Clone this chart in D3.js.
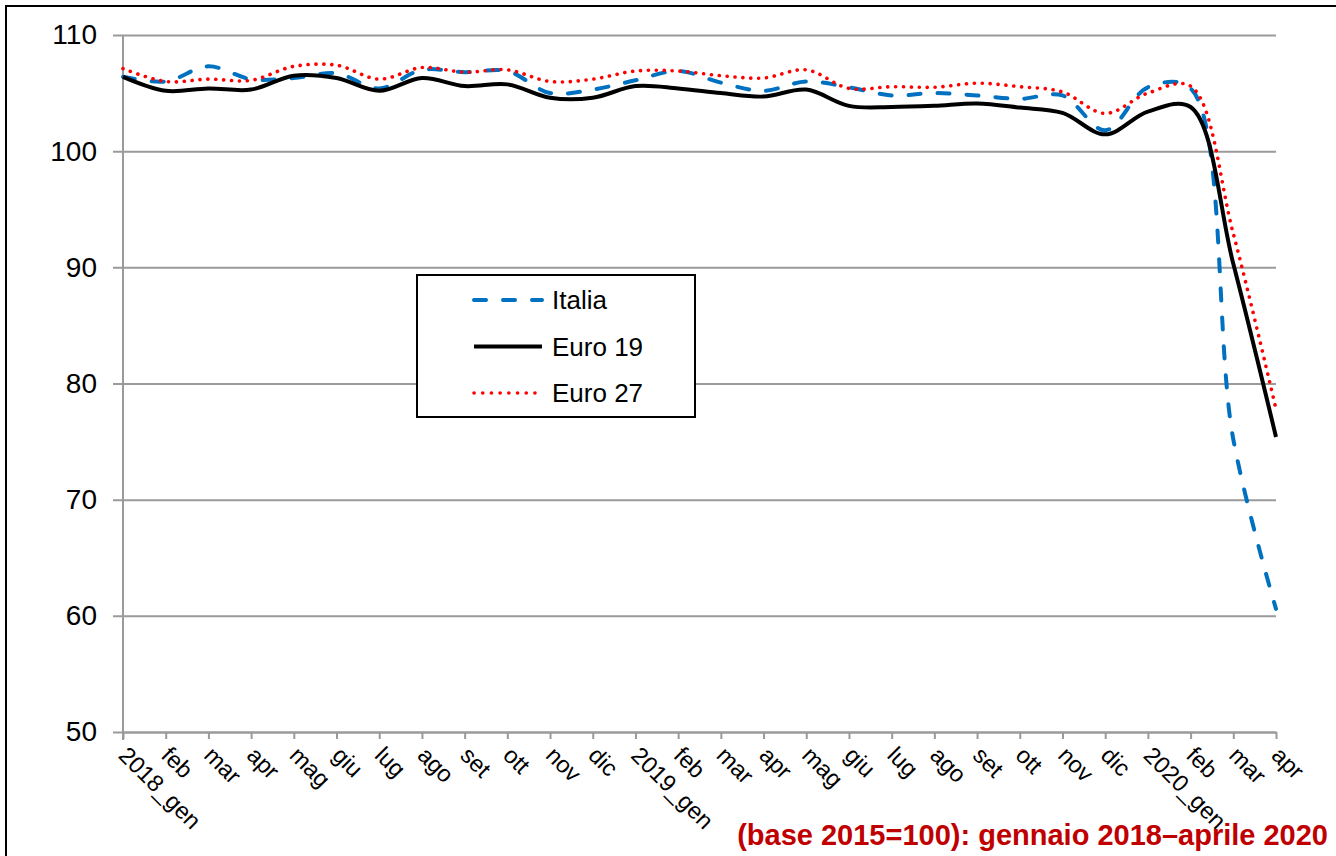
<!DOCTYPE html>
<html>
<head>
<meta charset="utf-8">
<script src="https://cdn.jsdelivr.net/npm/d3@7"></script>
<style>
  body { margin: 0; background: #fff; }
  svg { display: block; font-family: Arial, "Liberation Sans", sans-serif; }
</style>
</head>
<body>
<div id="chart"></div>
<script>
// mesi da gennaio 2018 ad aprile 2020
var monthLabels = ["2018_gen","feb","mar","apr","mag","giu","lug","ago","set","ott","nov","dic",
  "2019_gen","feb","mar","apr","mag","giu","lug","ago","set","ott","nov","dic",
  "2020_gen","feb","mar","apr"];

// valori (base 2015=100)
var italia = [106.4,106.0,107.3,106.2,106.3,106.7,105.4,107.0,106.8,106.9,105.0,105.3,
  106.1,106.9,105.9,105.2,106.0,105.5,104.8,105.0,104.8,104.5,104.8,101.8,
  105.5,105.4,75.2,60.6];
var euro19 = [106.4,105.2,105.4,105.3,106.5,106.3,105.2,106.3,105.6,105.75,104.6,104.6,
  105.6,105.4,105.0,104.7,105.3,103.9,103.8,103.9,104.1,103.75,103.3,101.45,
  103.4,103.8,90.3,75.4];
var euro27 = [107.1,106.0,106.2,106.1,107.3,107.4,106.2,107.2,106.8,107.0,106.0,106.2,
  106.9,106.9,106.5,106.3,107.0,105.4,105.55,105.5,105.85,105.55,105.1,103.25,
  105.0,105.6,92.9,77.8];

var yTicks = [50,60,70,80,90,100,110];
var seriesNames = ["Italia","Euro 19","Euro 27"];
var footer = "(base 2015=100): gennaio 2018\u2013aprile 2020";

(function(){
  var W = 1336, H = 856;
  var left = 123, right = 1276, top = 35, bottom = 732;

  var svg = d3.select("#chart").append("svg")
    .attr("width", W).attr("height", H);

  // bordo esterno
  svg.append("rect")
    .attr("x", 6).attr("y", 6)
    .attr("width", W + 20).attr("height", H + 20)
    .attr("fill", "none").attr("stroke", "#000").attr("stroke-width", 2);

  var x = d3.scalePoint()
    .domain(d3.range(monthLabels.length))
    .range([left, right]);

  var y = d3.scaleLinear()
    .domain([50, 110])
    .range([bottom, top]);

  // griglia + etichette asse y
  var yAxis = svg.append("g")
    .attr("transform", "translate(" + (left - 10) + ",0)")
    .call(d3.axisLeft(y).tickValues(yTicks).tickSize(-(right - left + 10)).tickPadding(16));
  yAxis.select(".domain").remove();
  yAxis.selectAll(".tick line").attr("stroke", "#9a9a9a").attr("stroke-width", 2);
  yAxis.selectAll(".tick text")
    .attr("fill", "#000")
    .style("font-size", "28px")
    .style("font-family", "Arial, 'Liberation Sans', sans-serif");

  // asse verticale
  svg.append("line")
    .attr("x1", left).attr("x2", left)
    .attr("y1", top).attr("y2", bottom + 8)
    .attr("stroke", "#9a9a9a").attr("stroke-width", 2);

  // asse x
  var xAxis = svg.append("g")
    .attr("transform", "translate(0," + bottom + ")")
    .call(d3.axisBottom(x).tickSize(7).tickSizeOuter(0).tickFormat(function(i){ return ""; }));
  xAxis.select(".domain").attr("stroke", "#9a9a9a").attr("stroke-width", 2);
  xAxis.selectAll(".tick line").attr("stroke", "#9a9a9a").attr("stroke-width", 2);

  svg.append("g").selectAll("text")
    .data(monthLabels)
    .join("text")
    .attr("transform", function(d, i){ return "translate(" + (x(i) + 6) + "," + (bottom + 13) + ") rotate(45)"; })
    .attr("dy", "0.7em")
    .style("font-size", "23.5px")
    .attr("fill", "#000")
    .text(function(d){ return d; });

  var line = d3.line()
    .x(function(d, i){ return x(i); })
    .y(function(d){ return y(d); })
    .curve(d3.curveCatmullRom.alpha(0.5));

  var styles = [
    {data: italia, color: "#0070C0", dash: "12 17", cap: "round", w: 4},
    {data: euro19, color: "#000000", dash: null, cap: "butt", w: 4},
    {data: euro27, color: "#FF0000", dash: "0.1 7.8", cap: "round", w: 3.6}
  ];

  // disegno prima Italia, poi Euro 27, poi Euro 19 sopra
  [0, 2, 1].forEach(function(k){
    var s = styles[k];
    svg.append("path")
      .datum(s.data)
      .attr("d", line)
      .attr("fill", "none")
      .attr("stroke", s.color)
      .attr("stroke-width", s.w)
      .attr("stroke-linecap", s.cap)
      .attr("stroke-dasharray", s.dash);
  });

  // legenda
  var lg = svg.append("g");
  lg.append("rect")
    .attr("x", 417).attr("y", 275)
    .attr("width", 278).attr("height", 142)
    .attr("fill", "#fff").attr("stroke", "#000").attr("stroke-width", 2);

  var legY = d3.scalePoint().domain(seriesNames).range([300, 393]);
  seriesNames.forEach(function(n, k){
    var s = styles[k];
    lg.append("line")
      .attr("x1", 474).attr("x2", 542)
      .attr("y1", legY(n)).attr("y2", legY(n))
      .attr("stroke", s.color)
      .attr("stroke-width", s.w)
      .attr("stroke-linecap", s.cap)
      .attr("stroke-dasharray", k == 2 ? "0.1 8.6" : s.dash);
    lg.append("text")
      .attr("x", 552).attr("y", legY(n))
      .attr("dy", "0.35em")
      .style("font-size", "26px")
      .text(n);
  });

  // nota in basso
  svg.append("text")
    .attr("x", 1328).attr("y", 845)
    .attr("text-anchor", "end")
    .attr("fill", "#C00000")
    .style("font-size", "29px")
    .style("font-weight", "bold")
    .text(footer);
})();
</script>
</body>
</html>
